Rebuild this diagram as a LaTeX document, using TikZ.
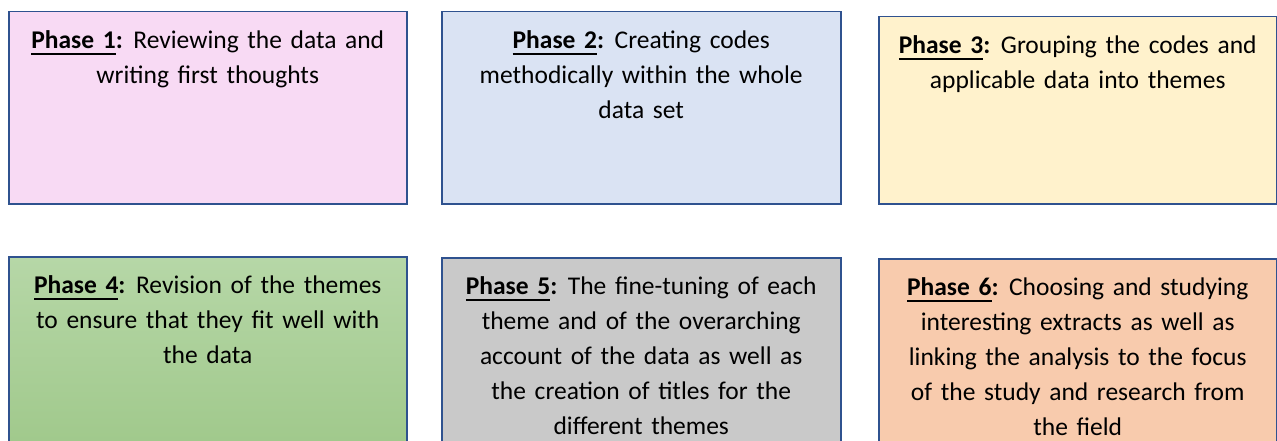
\documentclass[tikz,border=0pt]{standalone}
\usepackage{fontspec}
\setmainfont{Carlito}[WordSpace=1.5]
\usetikzlibrary{positioning}

\definecolor{boxline}{HTML}{2F528F}
\definecolor{pinkfill}{HTML}{F8DAF4}
\definecolor{bluefill}{HTML}{DAE3F3}
\definecolor{yellowfill}{HTML}{FFF2CC}
\definecolor{greentop}{HTML}{B6D7A7}
\definecolor{greenbot}{HTML}{9FC88A}
\definecolor{greyfill}{HTML}{C9C9C9}
\definecolor{peachfill}{HTML}{F8CBAD}

% bold, underlined heading of a phase (colon not underlined)
\newcommand{\phasehead}[1]{\textbf{\setbox0\hbox{Phase #1}\rlap{\rule[-6.3pt]{\wd0}{2pt}}\box0:}}

\begin{document}
\begin{tikzpicture}[x=1pt,y=1pt,
  phasebox/.style={draw=boxline,line width=1.5pt,inner sep=0pt,anchor=north west,minimum width=398pt},
  phasetext/.style={align=center,inner sep=0pt,font=\fontsize{25.5}{35}\selectfont}]
\useasboundingbox (0,0) rectangle (1277,-441);
\clip (0,0) rectangle (1277,-441);

% top row
\node [phasebox,fill=pinkfill,minimum height=192pt] (p1) at (8,-11) {};
\node [phasebox,fill=bluefill,minimum width=399pt,minimum height=192pt] (p2) at (441,-11) {};
\node [phasebox,fill=yellowfill,minimum height=187pt] (p3) at (878,-16) {};
% bottom row, runs off the lower edge
\node [phasebox,top color=greentop,bottom color=greenbot,minimum height=200pt] (p4) at (8,-256) {};
\node [phasebox,fill=greyfill,minimum width=399pt,minimum height=200pt] (p5) at (441,-257) {};
\node [phasebox,fill=peachfill,minimum height=200pt] (p6) at (878,-258) {};

\node [phasetext,below=19.5pt of p1.north] (t1) {\phasehead{1} Reviewing the data and\\ writing first thoughts};
\node [phasetext,below=19.5pt of p2.north] (t2) {\phasehead{2} Creating codes\\ methodically within the whole\\ data set};
\node [phasetext,below=19.5pt of p3.north] (t3) {\phasehead{3} Grouping the codes and\\ applicable data into themes};
\node [phasetext,below=19.5pt of p4.north] (t4) {\phasehead{4} Revision of the themes\\ to ensure that they fit well with\\ the data};
\node [phasetext,below=19.5pt of p5.north] (t5) {\phasehead{5} The fine-tuning of each\\ theme and of the overarching\\ account of the data as well as\\ the creation of titles for the\\ different themes};
\node [phasetext,below=19.5pt of p6.north] (t6) {\phasehead{6} Choosing and studying\\ interesting extracts as well as\\ linking the analysis to the focus\\ of the study and research from\\ the field};
\end{tikzpicture}
\end{document}
